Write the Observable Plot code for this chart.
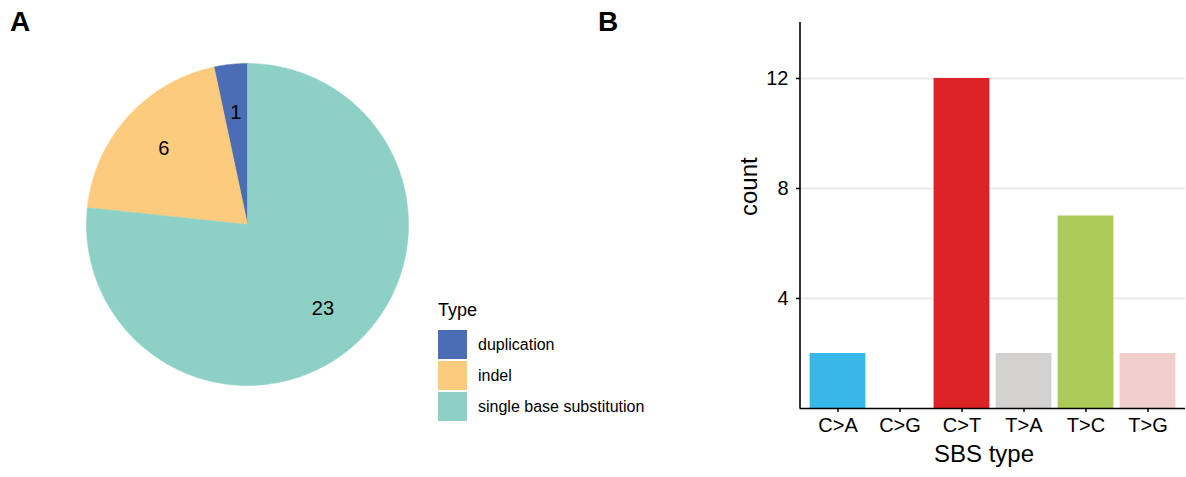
<!DOCTYPE html>
<html><head><meta charset="utf-8">
<script src="https://cdn.jsdelivr.net/npm/d3@7"></script>
<script src="https://cdn.jsdelivr.net/npm/@observablehq/plot@0.6"></script>
<style>
body{margin:0;background:#fff;font-family:"Liberation Sans",Arial,sans-serif;color:#000;}
#wrap{position:relative;width:1186px;height:477px;overflow:hidden;background:#fff;}
.panel{position:absolute;font-weight:bold;font-size:28px;line-height:1;}
#pie{position:absolute;left:0;top:0;}
#bar{position:absolute;left:700px;top:0;}
#legend{position:absolute;left:438px;top:300px;}
#legend .title{font-size:18px;height:21px;margin-bottom:9px;}
#legend .row{display:flex;align-items:center;height:29px;margin-bottom:2px;}
#legend .sw{width:29px;height:29px;margin-right:11px;}
#legend .lab{font-size:16px;}
</style></head><body>
<div id="wrap">
  <div class="panel" style="left:10px;top:8px;">A</div>
  <div class="panel" style="left:598px;top:8px;">B</div>
  <div id="pie"></div>
  <div id="legend"></div>
  <div id="bar"></div>
</div>
<script>
// ---- data ----
const mutationTypes = ["duplication", "indel", "single base substitution"];
const mutationCounts = [1, 6, 23];
const typeColors = ["#4A6DB5", "#FDCB7D", "#8DD1C6"];
const legendTitle = "Type";

const sbsTypes = ["C>A", "C>G", "C>T", "T>A", "T>C", "T>G"];
const sbsCounts = [2, 0, 12, 2, 7, 2];
const sbsColors = ["#37B8E9", "#000000", "#DC2227", "#D3D2D0", "#AACB57", "#EFCECC"];
const yTicks = [4, 8, 12];

// ---- pie (panel A) ----
const arcs = d3.pie().sort(null).startAngle(0).endAngle(-2 * Math.PI)(mutationCounts);
const slicePts = [];
arcs.forEach((a, i) => {
  const t = mutationTypes[i];
  slicePts.push({type: t, x: 0, y: 0});
  const n = Math.max(2, Math.ceil(Math.abs(a.endAngle - a.startAngle) / 0.01));
  for (let k = 0; k <= n; k++) {
    const ang = a.startAngle + (a.endAngle - a.startAngle) * k / n;
    slicePts.push({type: t, x: Math.sin(ang), y: Math.cos(ang)});
  }
  slicePts.push({type: t, x: 0, y: 0});
});
const pieLabels = arcs.map((a, i) => {
  const m = (a.startAngle + a.endAngle) / 2;
  return {x: 0.7 * Math.sin(m), y: 0.7 * Math.cos(m), text: String(mutationCounts[i])};
});

const pie = Plot.plot({
  width: 430, height: 477,
  margin: 0,
  x: {domain: [-1, 1], range: [86, 408], axis: null},
  y: {domain: [-1, 1], range: [385, 63], axis: null},
  color: {domain: mutationTypes, range: typeColors},
  style: {fontFamily: '"Liberation Sans", Arial, sans-serif', background: "transparent"},
  marks: [
    Plot.line(slicePts, {x: "x", y: "y", z: "type", fill: "type", stroke: "type", strokeWidth: 0.5, curve: "linear"}),
    Plot.text(pieLabels, {x: "x", y: "y", text: "text", fontSize: 20, fill: "#000"})
  ]
});
document.getElementById("pie").appendChild(pie);

// legend
const lg = document.getElementById("legend");
const tt = document.createElement("div"); tt.className = "title"; tt.textContent = legendTitle; lg.appendChild(tt);
mutationTypes.forEach((t, i) => {
  const r = document.createElement("div"); r.className = "row";
  const s = document.createElement("div"); s.className = "sw"; s.style.background = typeColors[i];
  const l = document.createElement("div"); l.className = "lab"; l.textContent = t;
  r.appendChild(s); r.appendChild(l); lg.appendChild(r);
});

// ---- bars (panel B) ----
const sbsData = sbsTypes.map((s, i) => ({sbs: s, count: sbsCounts[i]}));
const yAxisLine = (index, scales, values, dims) => {
  const ns = "http://www.w3.org/2000/svg";
  const l = document.createElementNS(ns, "line");
  l.setAttribute("x1", dims.marginLeft); l.setAttribute("x2", dims.marginLeft);
  l.setAttribute("y1", dims.marginTop - 1); l.setAttribute("y2", dims.height - dims.marginBottom + 0.75);
  l.setAttribute("stroke", "#000"); l.setAttribute("stroke-width", 1.6);
  return l;
};
const bar = Plot.plot({
  width: 486, height: 477,
  marginLeft: 100, marginRight: 1, marginTop: 23, marginBottom: 69,
  x: {domain: sbsTypes, paddingInner: 0.1, paddingOuter: 0.155, round: false},
  y: {domain: [0, 14]},
  color: {domain: sbsTypes, range: sbsColors},
  style: {fontFamily: '"Liberation Sans", Arial, sans-serif', fontSize: "20px", color: "#000", background: "transparent"},
  marks: [
    Plot.gridY(yTicks, {stroke: "#EBEBEB", strokeWidth: 2, strokeOpacity: 1}),
    Plot.barY(sbsData, {x: "sbs", y: "count", fill: "sbs"}),
    Plot.axisY(yTicks, {tickSize: 4, tickPadding: 8, fontSize: 20, label: null, strokeWidth: 1.5}),
    Plot.axisX({tickSize: 4, tickPadding: 5, fontSize: 20, label: null, strokeWidth: 1.5}),
    Plot.ruleY([0], {stroke: "#000", strokeWidth: 1.6}),
    yAxisLine,
    Plot.text(["count"], {frameAnchor: "left", dx: -51, rotate: -90, fontSize: 24, fill: "#000"}),
    Plot.text(["SBS type"], {frameAnchor: "bottom", dx: -9, dy: 53, fontSize: 24, fill: "#000"})
  ]
});
document.getElementById("bar").appendChild(bar);
</script>
</body></html>
